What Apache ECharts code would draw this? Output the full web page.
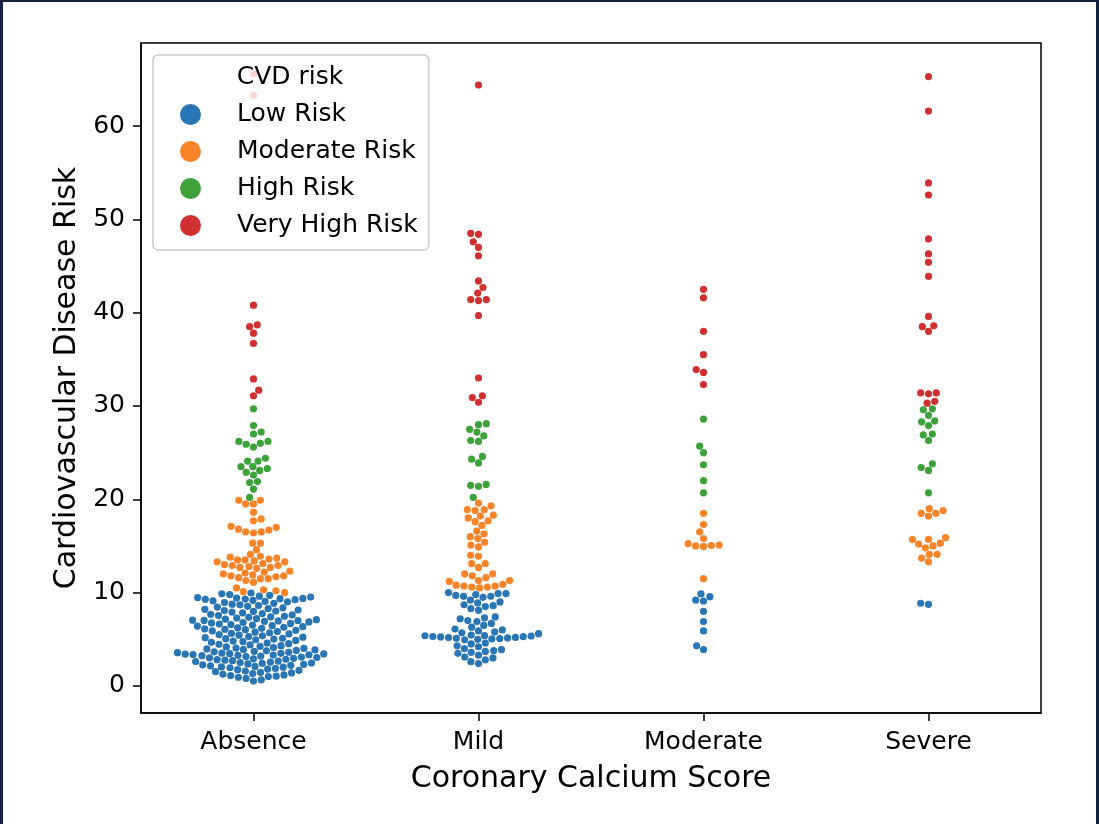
<!DOCTYPE html>
<html><head><meta charset="utf-8">
<script src="https://cdn.jsdelivr.net/npm/echarts@6/dist/echarts.min.js"></script>
<style>
html,body{margin:0;padding:0;background:#fff;}
#wrap{position:relative;width:1099px;height:824px;overflow:hidden;}
#chart{position:absolute;left:0;top:0;width:1099px;height:824px;}
#frame{position:absolute;left:0;top:0;width:1099px;height:824px;box-sizing:border-box;border:3px solid #13223f;border-top-width:2px;border-bottom:none;pointer-events:none;}
</style></head>
<body><div id="wrap"><div id="chart"></div><div id="frame"></div></div>
<script>
const categories = ['Absence', 'Mild', 'Moderate', 'Severe'];
const riskLevels = ['Low Risk', 'Moderate Risk', 'High Risk', 'Very High Risk'];
const riskColors = ['#2a76b4', '#f8842a', '#3da23a', '#d0302f'];
const yTicks = [0, 10, 20, 30, 40, 50, 60];

// Absence
const absenceLow = [
 9.96, 9.88, 9.8, 9.71, 9.62, 9.52, 9.47, 9.42, 9.38, 9.35, 9.31, 9.28, 9.24, 9.18, 9.12, 9.06, 9.02,
 8.94, 8.85, 8.76, 8.69, 8.61, 8.53, 8.45, 8.37, 8.29, 8.21, 8.14, 8.08, 8.03, 7.99,
 7.92, 7.84, 7.76, 7.68, 7.61, 7.54, 7.47, 7.41, 7.35, 7.28, 7.21, 7.15, 7.1, 7.05, 7.02, 6.99, 6.97,
 6.92, 6.86, 6.8, 6.75, 6.7, 6.64, 6.58, 6.52, 6.46, 6.41, 6.35, 6.29, 6.23, 6.17, 6.11, 6.07, 6.03,
 5.96, 5.9, 5.83, 5.76, 5.7, 5.63, 5.57, 5.5, 5.44, 5.37, 5.3, 5.23, 5.17, 5.11, 5.06, 5.02,
 4.95, 4.88, 4.81, 4.74, 4.67, 4.6, 4.53, 4.46, 4.39, 4.32, 4.25, 4.18, 4.12, 4.06, 4.02,
 3.97, 3.91, 3.86, 3.81, 3.76, 3.71, 3.66, 3.61, 3.56, 3.52, 3.49, 3.46, 3.43, 3.4, 3.37, 3.34, 3.31, 3.28, 3.24, 3.2, 3.15, 3.1, 3.05, 3.01,
 2.96, 2.91, 2.86, 2.81, 2.76, 2.71, 2.66, 2.61, 2.56, 2.51, 2.46, 2.41, 2.36, 2.31, 2.26, 2.21, 2.15, 2.09, 2.04, 2.01,
 1.95, 1.88, 1.81, 1.74, 1.67, 1.6, 1.53, 1.46, 1.39, 1.32, 1.25, 1.18, 1.11, 1.05, 1.01,
 0.93, 0.8, 0.66, 0.52
];
const absenceModerate = [19.9, 19.9, 19.5, 19.5, 18.6, 17.9, 17.7, 17.1, 17.0, 16.8, 16.7, 16.5, 16.5, 16.4, 15.3, 15.3, 14.6, 14.1,
 13.9, 13.8, 13.7, 13.6, 13.5, 13.5, 13.4, 13.3, 13.3, 13.1, 13.0, 12.9, 12.9, 12.8, 12.7, 12.7, 12.6,
 12.3, 12.2, 12.1, 12.0, 11.9, 11.8, 11.8, 11.7, 11.6, 11.5, 11.5, 11.3, 11.1, 10.5, 10.3, 10.2, 10.1, 10.0];
const absenceHigh = [29.7, 27.9, 27.2, 27.0, 26.2, 26.2, 26.0, 25.9, 25.6, 24.4, 24.1, 24.1, 23.5, 23.5, 23.3, 23.1, 22.9, 22.6, 21.9, 21.8, 21.1, 20.2];
const absenceVeryHigh = [65.6, 63.3, 40.8, 38.7, 38.5, 37.8, 36.7, 32.9, 31.7, 31.1];

// Mild
const mildLow = [10.0, 9.9, 9.9, 9.8, 9.7, 9.6, 9.6, 9.5,
 9.2, 9.0, 8.9, 8.7, 8.6, 8.5, 8.3, 8.1,
 7.4, 7.3, 7.2, 7.0, 6.9, 6.7, 6.5, 6.3,
 6.1, 6.0, 5.9, 5.8, 5.7, 5.6,
 5.45, 5.4, 5.38, 5.35, 5.3, 5.28, 5.25, 5.2, 5.18, 5.15, 5.1, 5.08, 5.05, 5.0, 4.95,
 4.6, 4.5, 4.3, 4.2, 4.0, 3.9, 3.8, 3.7, 3.6, 3.5,
 3.3, 3.1, 3.0, 2.8, 2.6, 2.4];
const mildModerate = [19.6, 19.3, 18.9, 18.9, 18.8, 18.3, 18.2, 18.0, 17.7, 17.6, 17.2, 16.6, 16.3, 16.0, 15.8, 15.4, 15.1, 14.9,
 14.0, 13.9, 13.1, 13.1, 12.7, 12.0, 12.0, 11.8, 11.6, 11.3, 11.3, 11.2, 10.9, 10.8, 10.7, 10.7, 10.6, 10.6, 10.5];
const mildHigh = [28.1, 28.0, 27.5, 27.2, 26.8, 26.3, 26.2, 24.6, 24.3, 23.9, 21.6, 21.5, 21.4, 20.2];
const mildVeryHigh = [64.4, 48.5, 48.4, 47.6, 47.0, 46.1, 43.4, 42.7, 42.1, 41.4, 41.4, 41.3, 39.7, 33.0, 31.1, 30.9, 30.4];

// Moderate
const moderateLow = [9.86, 9.57, 9.2, 9.1, 8.0, 6.9, 5.9, 4.3, 3.9];
const moderateModerate = [18.5, 17.3, 16.5, 15.8, 15.25, 15.1, 15.05, 15.0, 14.95, 11.5];
const moderateHigh = [28.6, 25.7, 25.0, 23.7, 22.0, 20.7];
const moderateVeryHigh = [42.5, 41.6, 38.0, 35.5, 33.9, 33.6, 32.3];

// Severe
const severeLow = [8.86, 8.75];
const severeModerate = [19.0, 18.8, 18.5, 18.5, 18.2, 15.9, 15.7, 15.7, 15.3, 15.2, 15.0, 14.8, 14.1, 14.1, 13.7, 13.3];
const severeHigh = [29.7, 29.6, 29.0, 28.4, 28.3, 27.9, 27.0, 26.9, 26.3, 23.8, 23.4, 23.1, 20.7];
const severeVeryHigh = [65.3, 61.6, 53.9, 52.6, 47.9, 46.3, 45.4, 43.9, 39.6, 38.6, 38.5, 38.0, 31.4, 31.4, 31.3, 30.5, 30.3];

const groups = [
  [absenceLow, absenceModerate, absenceHigh, absenceVeryHigh],
  [mildLow, mildModerate, mildHigh, mildVeryHigh],
  [moderateLow, moderateModerate, moderateHigh, moderateVeryHigh],
  [severeLow, severeModerate, severeHigh, severeVeryHigh]
];

const FONT = 'DejaVu Sans';
const chart = echarts.init(document.getElementById('chart'), null, {renderer: 'canvas'});

const axisLineStyle = {color: '#000', width: 1.5};
chart.setOption({
  animation: false,
  backgroundColor: 'transparent',
  textStyle: {fontFamily: FONT},
  grid: {left: 141, top: 43, right: 58, bottom: 111, show: true, borderColor: '#000', borderWidth: 1.5, backgroundColor: 'transparent'},
  xAxis: [
    {type: 'category', data: categories, boundaryGap: true, position: 'bottom',
     axisLine: {show: true, onZero: false, lineStyle: axisLineStyle},
     axisTick: {show: true, alignWithLabel: true, length: 8, lineStyle: axisLineStyle},
     axisLabel: {fontSize: 25, color: '#000', margin: 17, fontFamily: FONT},
     splitLine: {show: false},
     name: 'Coronary Calcium Score', nameLocation: 'middle', nameGap: 51,
     nameTextStyle: {fontSize: 30, color: '#000', fontFamily: FONT}},
    {type: 'value', min: -0.5, max: 3.5, show: false, axisLine: {onZero: false}}
  ],
  yAxis: [{type: 'value', min: -2.9, max: 68.9,
    axisLine: {show: true, onZero: false, lineStyle: axisLineStyle},
    axisTick: {show: true, length: 8, lineStyle: axisLineStyle, customValues: yTicks},
    axisLabel: {fontSize: 25, color: '#000', margin: 16, fontFamily: FONT, customValues: yTicks},
    splitLine: {show: false},
    name: 'Cardiovascular Disease Risk', nameLocation: 'middle', nameGap: 59,
    nameTextStyle: {fontSize: 30, color: '#000', fontFamily: FONT}}],
  legend: {
    show: true, orient: 'vertical', left: 153, top: 55, z: 10,
    data: riskLevels,
    padding: [47, 11, 12, 27],
    itemWidth: 21, itemHeight: 21, itemGap: 12, icon: 'circle',
    backgroundColor: 'rgba(255,255,255,0.8)', borderColor: '#cccccc', borderWidth: 1.5, borderRadius: 5,
    textStyle: {fontSize: 25, color: '#000', fontFamily: FONT, lineHeight: 21, padding: [0, 0, 0, 31]}
  },
  graphic: [{type: 'text', x: 290, y: 77, z: 100,
    style: {text: 'CVD risk', fontSize: 25, fontFamily: FONT, fill: '#000', align: 'center', verticalAlign: 'middle', textAlign: 'center', textVerticalAlign: 'middle'}}],
  series: riskLevels.map((name, i) => ({name, type: 'scatter', xAxisIndex: 1, yAxisIndex: 0, data: [], itemStyle: {color: riskColors[i]}}))
});

// Beeswarm layout (seaborn-like) in pixel space
const D = 7.5;
function beeswarm(items, midX) {
  const placed = [];
  for (const it of items) {
    const y = it.py;
    const neighbors = [];
    for (let k = placed.length - 1; k >= 0; k--) {
      if (Math.abs(placed[k].y - y) < D) neighbors.push(placed[k]); else break;
    }
    const cands = [midX];
    let leftFirst = true;
    for (const n of neighbors) {
      const dy = y - n.y;
      const dx = Math.sqrt(Math.max(D * D - dy * dy, 0)) * 1.05;
      if (leftFirst) cands.push(n.x - dx, n.x + dx); else cands.push(n.x + dx, n.x - dx);
      leftFirst = !leftFirst;
    }
    const order = cands.map((c, i) => [c, i]).sort((a, b) => (Math.abs(a[0] - midX) - Math.abs(b[0] - midX)) || (a[1] - b[1]));
    let chosen = order[0][0];
    for (const [c] of order) {
      let ok = true;
      for (const n of neighbors) {
        const ddx = c - n.x, ddy = y - n.y;
        if (Math.sqrt(ddx * ddx + ddy * ddy) - D < -1e-9) { ok = false; break; }
      }
      if (ok) { chosen = c; break; }
    }
    placed.push({x: chosen, y: y, it: it});
  }
  return placed;
}

const seriesData = riskLevels.map(() => []);
const px0 = chart.convertToPixel({xAxisIndex: 1}, 0);
const px1 = chart.convertToPixel({xAxisIndex: 1}, 1);
const pxPerUnit = px1 - px0;
groups.forEach((catGroups, ci) => {
  const items = [];
  catGroups.forEach((vals, gi) => vals.forEach(v => items.push({v: v, g: gi, py: chart.convertToPixel({yAxisIndex: 0}, v)})));
  items.sort((a, b) => a.v - b.v);
  const midX = chart.convertToPixel({xAxisIndex: 1}, ci);
  const placed = beeswarm(items, midX);
  placed.forEach(p => seriesData[p.it.g].push([ci + (p.x - midX) / pxPerUnit, p.it.v]));
});

chart.setOption({
  series: riskLevels.map((name, i) => ({name, type: 'scatter', xAxisIndex: 1, yAxisIndex: 0,
    symbol: 'circle', symbolSize: 7.2, data: seriesData[i], z: 2,
    itemStyle: {color: riskColors[i], opacity: 1}, emphasis: {disabled: true}}))
});
</script>
</body></html>
